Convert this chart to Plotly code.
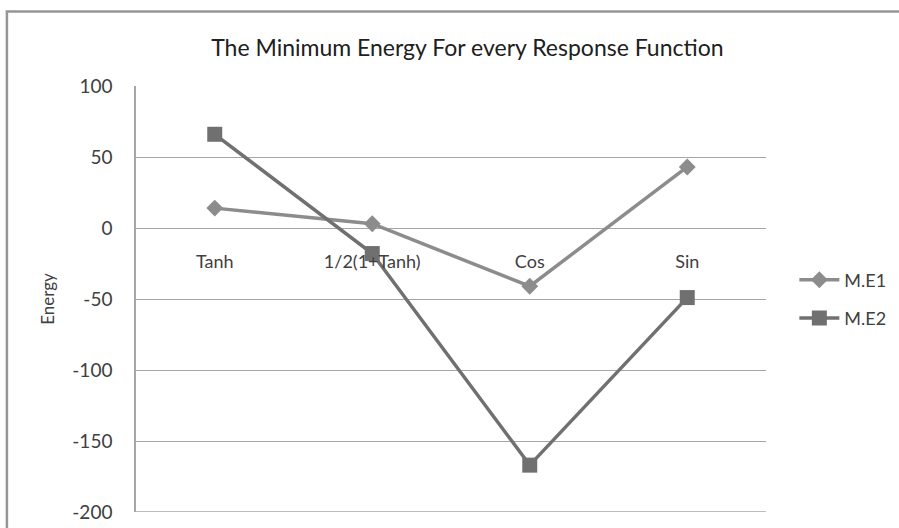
import plotly.graph_objects as go

categories = ["Tanh", "1/2(1+Tanh)", "Cos", "Sin"]
me1 = [14, 3, -41, 43]
me2 = [66, -18, -167, -49]
y_ticks = [100, 50, 0, -50, -100, -150, -200]
y_tick_text = ["100", "50", "0", "-50", "-100", "-150", "-200"]

FONT = "Lato"
TXT = "#404040"
GRID = "#a6a6a6"
Y_MIN, Y_MAX = min(y_ticks), max(y_ticks)

fig = go.Figure()
fig.add_trace(go.Scatter(
    x=categories, y=me1, name="M.E1", mode="lines+markers",
    line=dict(color="#8c8c8c", width=3.5),
    marker=dict(symbol="diamond", size=13, color="#8c8c8c"),
    legendgroup="a",
))
fig.add_trace(go.Scatter(
    x=categories, y=me2, name="M.E2", mode="lines+markers",
    line=dict(color="#707070", width=3.5),
    marker=dict(symbol="square", size=15, color="#707070"),
    legendgroup="b",
))

fig.update_layout(
    width=899, height=528,
    margin=dict(l=136, r=133, t=86, b=16, autoexpand=False),
    paper_bgcolor="white", plot_bgcolor="white",
    font=dict(family=FONT, color=TXT, size=18),
    title=dict(text="The Minimum Energy For every Response Function",
               x=0.526, xanchor="center", xref="paper", y=0.91, yanchor="middle",
               font=dict(family=FONT, size=23, color="#202020")),
    showlegend=True,
    legend=dict(x=1.045, y=0.5, xanchor="left", yanchor="middle",
                font=dict(size=18, color=TXT), tracegroupgap=12,
                traceorder="grouped", itemwidth=40, bgcolor="rgba(0,0,0,0)"),
    xaxis=dict(type="category", range=[-0.5, 3.5], anchor="free", position=2/3,
               showgrid=False, showline=False, zeroline=False, ticks="",
               automargin=False,
               ticklabelstandoff=21, tickfont=dict(size=18, color=TXT)),
    yaxis=dict(range=[Y_MIN, Y_MAX], tickvals=y_ticks, ticktext=y_tick_text,
               showgrid=True, automargin=False,
               gridcolor=GRID, gridwidth=1.3, zeroline=False,
               showline=True, linecolor=GRID, linewidth=1.5,
               ticks="", ticklabelstandoff=18, tickfont=dict(size=19, color=TXT),
               title=dict(text="Energy", font=dict(size=17, color=TXT), standoff=13)),
    shapes=[
        # bottom gridline at the axis minimum
        dict(type="line", xref="paper", yref="y", x0=0, x1=1, y0=Y_MIN, y1=Y_MIN,
             line=dict(color=GRID, width=1.3), layer="below"),
        # chart-area border (only top and left are inside the picture)
        dict(type="path", xref="paper", yref="paper",
             path="M -0.2049,-0.2 L -0.2049,1.175 L 1.215,1.175",
             line=dict(color="#969696", width=2.5)),
    ],
)

fig.write_html("out.html", config={"displayModeBar": False},
               post_script="document.body.style.margin='0';document.body.style.padding='0';"
                           "document.body.style.overflow='hidden';")
